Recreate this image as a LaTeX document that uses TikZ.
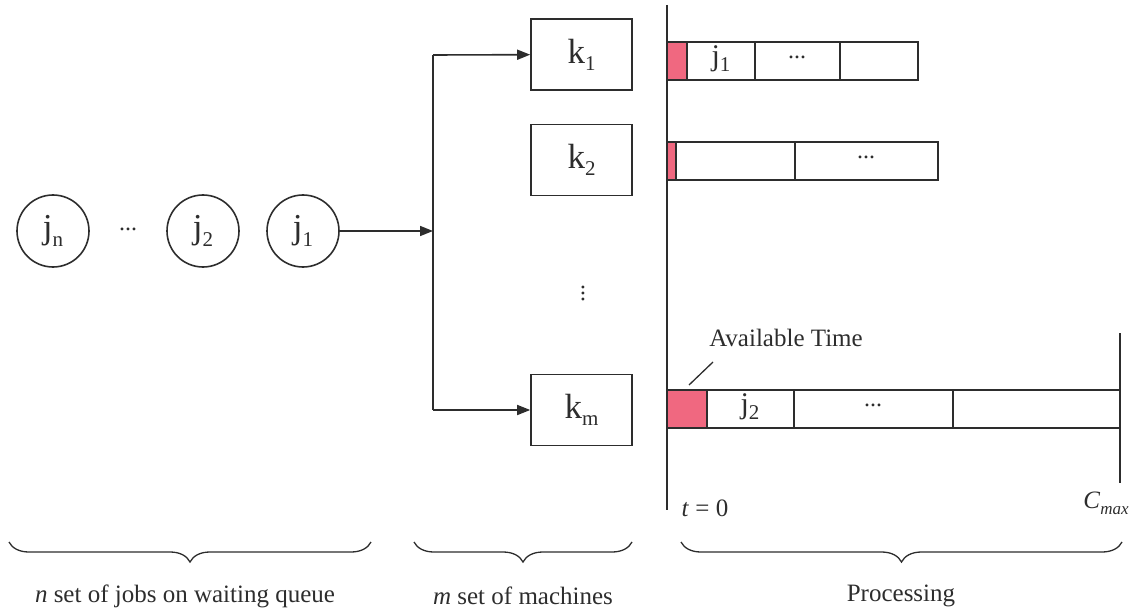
\documentclass[tikz,border=0pt]{standalone}
\usepackage{fontspec}
\setmainfont{Liberation Serif}
\usetikzlibrary{decorations.pathreplacing,arrows.meta}
\newcommand\lowsub[1]{\raisebox{-0.45ex}{\fontsize{21}{21}\selectfont #1}}
\definecolor{ln}{RGB}{45,45,45}
\definecolor{avail}{RGB}{240,104,128}
\begin{document}
\begin{tikzpicture}[x=1pt,y=-1pt,line width=1.6pt,
  every node/.style={text=ln},
  job/.style={circle,draw=ln,minimum size=72pt,inner sep=0pt,font=\fontsize{35}{35}\selectfont},
  mach/.style={rectangle,draw=ln,minimum width=101pt,minimum height=71pt,inner sep=0pt,font=\fontsize{35}{35}\selectfont},
  cellj/.style={font=\fontsize{30}{30}\selectfont},
  lbl/.style={font=\fontsize{25}{30}\selectfont},
  small/.style={font=\fontsize{24}{24}\selectfont},
  arr/.style={draw=ln,-{Triangle[length=13pt,width=10pt]}},
  cell/.style={draw=ln},
  red/.style={draw=ln,fill=avail},
  brc/.style={draw=ln,line width=1.3pt,decorate,decoration={brace,mirror,amplitude=20pt}}]
\useasboundingbox (0,0) rectangle (1136,615);
% jobs
\node[job] (jn) at (53,231) {j\lowsub{n}};
\node[small] (jdots) at (128,229) {...};
\node[job] (j2) at (203,231) {j\lowsub{2}};
\node[job] (j1) at (303,231) {j\lowsub{1}};
\coordinate (split) at (433,231);
\coordinate (top) at (433,55);
\coordinate (bot) at (433,410);
% machines
\node[mach] (k1) at (581.5,54.5) {k\lowsub{1}};
\node[mach] (k2) at (581.5,160) {k\lowsub{2}};
\node[mach] (km) at (581.5,410) {k\lowsub{m}};
\node[small,rotate=90] (kdots) at (583,293) {...};
% connectors
\draw[arr] (j1) -- (split);
\draw[draw=ln] (top) -- (bot);
\draw[arr] (top) -- (k1);
\draw[arr] (bot) -- (km);
% time axis
\draw[draw=ln] (667,5) -- (667,510);
\draw[draw=ln] (1120,333) -- (1120,483);
% row 1
\filldraw[red] (667,42) rectangle (687,80);
\draw[cell] (687,42) rectangle (755,80);
\draw[cell] (755,42) rectangle (840,80);
\draw[cell] (840,42) rectangle (918,80);
\node[cellj] (c11) at (721,59) {j\lowsub{1}};
\node[small] (c12) at (797,57) {...};
% row 2
\filldraw[red] (667,142) rectangle (676,180);
\draw[cell] (676,142) rectangle (795,180);
\draw[cell] (795,142) rectangle (938,180);
\node[small] (c22) at (866,157) {...};
% row m
\filldraw[red] (667,390) rectangle (707,428);
\draw[cell] (707,390) rectangle (794,428);
\draw[cell] (794,390) rectangle (953,428);
\draw[cell] (953,390) rectangle (1120,428);
\node[cellj] (cm1) at (750,407) {j\lowsub{2}};
\node[small] (cm2) at (873,405) {...};
% annotations
\node[lbl] (avail) at (786,338) {Available Time};
\draw[draw=ln,line width=1.3pt] (713,362) -- (689,385);
\node[lbl] (t0) at (705,508) {\textit{t} = 0};
\node[lbl] (cmax) at (1106,503) {\textit{C}\raisebox{-0.5ex}{\fontsize{17}{17}\selectfont\textit{max}}};
% braces
\draw[brc] (9,542) -- (371,542);
\draw[brc] (414,542) -- (632,542);
\draw[brc] (681,542) -- (1122,542);
\node[lbl] (b1) at (185,596) {\textit{n} set of jobs on waiting queue};
\node[lbl] (b2) at (523,596) {\textit{m} set of machines};
\node[lbl] (b3) at (901,596) {Processing};
\end{tikzpicture}
\end{document}
